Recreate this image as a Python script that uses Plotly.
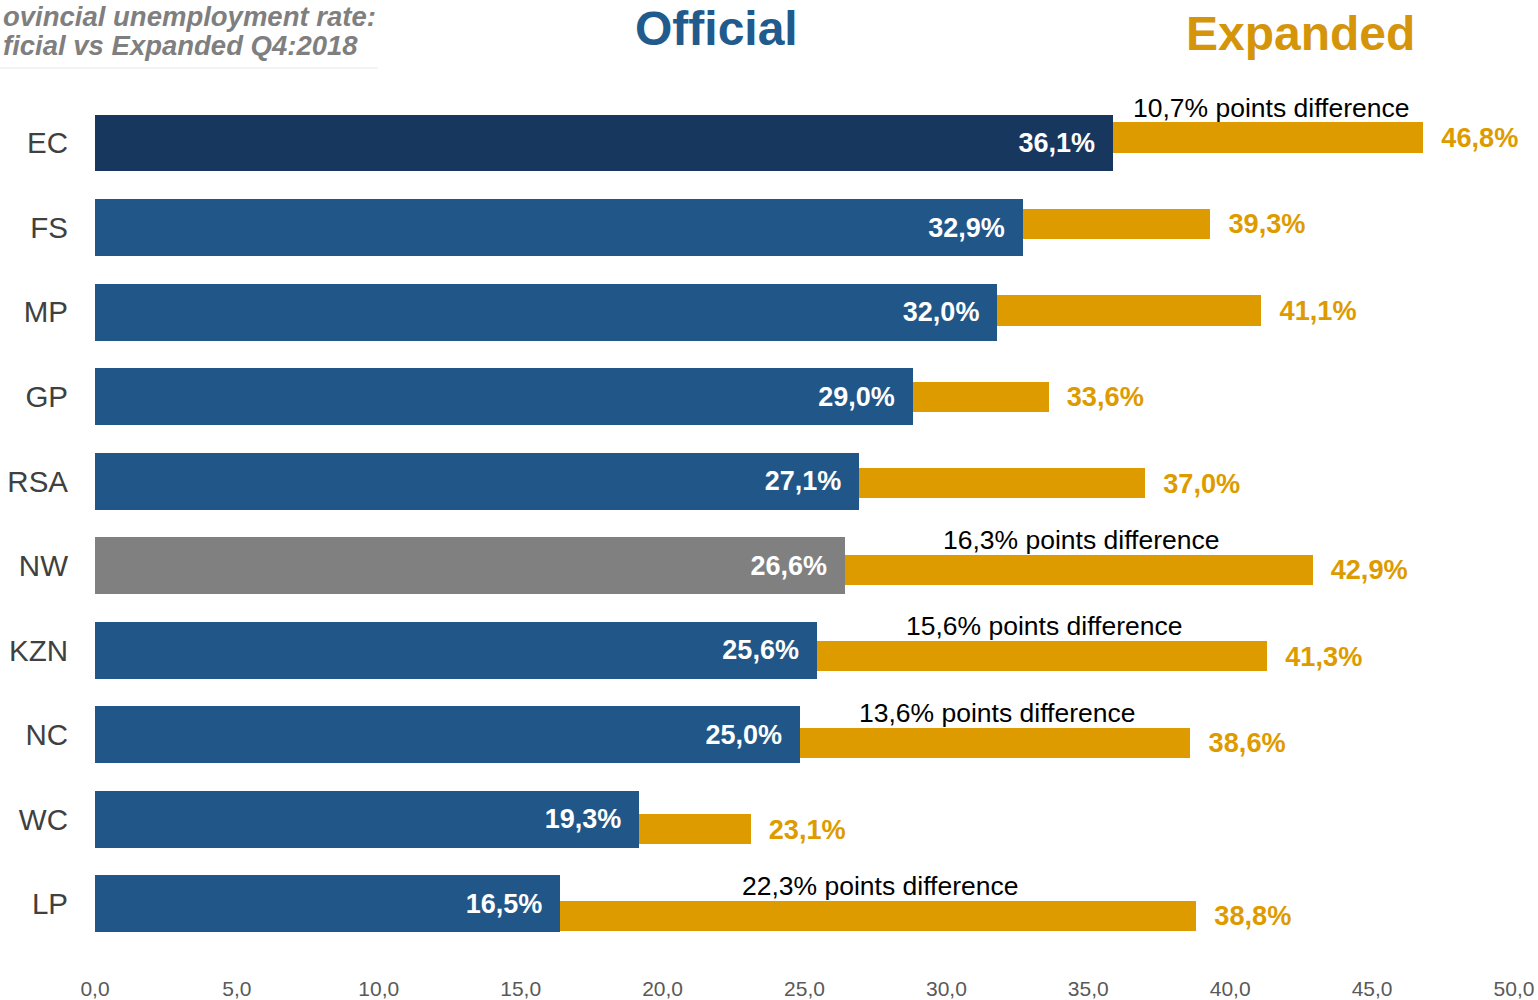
import plotly.graph_objects as go

provinces = ["EC", "FS", "MP", "GP", "RSA", "NW", "KZN", "NC", "WC", "LP"]
official = [36.1, 32.9, 32.0, 29.0, 27.1, 26.6, 25.6, 25.0, 19.3, 16.5]
expanded = [46.8, 39.3, 41.1, 33.6, 37.0, 42.9, 41.3, 38.6, 23.1, 38.8]
official_labels = ["36,1%", "32,9%", "32,0%", "29,0%", "27,1%", "26,6%", "25,6%", "25,0%", "19,3%", "16,5%"]
expanded_labels = ["46,8%", "39,3%", "41,1%", "33,6%", "37,0%", "42,9%", "41,3%", "38,6%", "23,1%", "38,8%"]
diff_provinces = ["EC", "NW", "KZN", "NC", "LP"]
diff_labels = ["10,7% points difference", "16,3% points difference", "15,6% points difference",
               "13,6% points difference", "22,3% points difference"]
x_ticks = [0, 5, 10, 15, 20, 25, 30, 35, 40, 45, 50]
x_ticklabels = ["0,0", "5,0", "10,0", "15,0", "20,0", "25,0", "30,0", "35,0", "40,0", "45,0", "50,0"]
title_lines = ["ovincial unemployment rate:", "ficial vs Expanded Q4:2018"]

BLUE = "#215788"
DARK = "#17375E"
GREY = "#808080"
ORANGE = "#DD9B00"

L, R, T, B = 95, 24, 100, 40
PW = 1538 - L - R  # plot width in px
PH = 1000 - T - B

idx = list(range(len(provinces)))
off_colors = [DARK if p == "EC" else GREY if p == "NW" else BLUE for p in provinces]
NB = "\u00a0"

fig = go.Figure()
# Expanded (thin orange) bars on primary axes
fig.add_trace(go.Bar(
    y=idx, x=expanded, orientation="h", width=0.347,
    marker=dict(color=ORANGE, line=dict(width=0)),
    text=[NB + NB + t for t in expanded_labels], textposition="outside",
    textfont=dict(family="Liberation Sans, Arial", size=29, color=ORANGE, weight="bold"),
    cliponaxis=False, xaxis="x", yaxis="y", showlegend=False, hoverinfo="skip",
))
# Official bars on overlaying axes (drawn on top)
fig.add_trace(go.Bar(
    y=idx, x=official, orientation="h", width=0.674,
    marker=dict(color=off_colors, line=dict(width=0)),
    text=[t + NB + NB for t in official_labels], textposition="inside", insidetextanchor="end",
    textfont=dict(family="Liberation Sans, Arial", size=27, color="white", weight="bold"),
    constraintext="none",
    xaxis="x2", yaxis="y2", showlegend=False, hoverinfo="skip",
))

annotations = []
for p, lab in zip(diff_provinces, diff_labels):
    i = provinces.index(p)
    annotations.append(dict(
        x=(official[i] + expanded[i]) / 2, y=i, xref="x", yref="y",
        text=lab, showarrow=False, yanchor="bottom", xanchor="center", yshift=13,
        font=dict(family="Liberation Sans, Arial", size=26.5, color="black"),
    ))

# title lines (positions in px from top of figure)
for line, ycen in zip(title_lines, [16, 45]):
    annotations.append(dict(
        x=-L / PW, y=1, xref="paper", yref="paper", xanchor="left", yanchor="middle",
        xshift=1, yshift=T - ycen, align="left", showarrow=False,
        text="<b><i>" + line + "</i></b>",
        font=dict(family="Liberation Sans, Arial", size=27.5, color="#7F7F7F")))

annotations += [
    dict(x=(716 - L) / PW, y=1, xref="paper", yref="paper", yanchor="middle", xanchor="center", showarrow=False,
         yshift=T - 28, text="<b>Official</b>", font=dict(family="Liberation Sans, Arial", size=48, color="#215A8C")),
    dict(x=(1300 - L) / PW, y=1, xref="paper", yref="paper", yanchor="middle", xanchor="center", showarrow=False,
         yshift=T - 33, text="<b>Expanded</b>", font=dict(family="Liberation Sans, Arial", size=48, color="#D4950A")),
]

fig.update_layout(
    width=1538, height=1000,
    margin=dict(l=L, r=R, t=T, b=B, autoexpand=False),
    paper_bgcolor="white", plot_bgcolor="white",
    bargap=0,
    barmode="overlay",
    hovermode=False,
    xaxis=dict(range=[0, 50], tickvals=x_ticks, ticktext=x_ticklabels, showgrid=False, zeroline=False,
               showline=False, ticks="", ticklabelstandoff=14, automargin=False,
               tickfont=dict(family="Liberation Sans, Arial", size=21, color="#595959")),
    xaxis2=dict(range=[0, PW / 28.2], overlaying="x", visible=False, showgrid=False, zeroline=False,
                automargin=False),
    yaxis=dict(range=[9.509, -0.4335], visible=False, showgrid=False, zeroline=False, automargin=False),
    yaxis2=dict(range=[9.663, -0.5086], overlaying="y", side="left", tickvals=idx, ticktext=provinces,
                showgrid=False, zeroline=False, showline=False, ticks="", ticklabelstandoff=26,
                automargin=False,
                tickfont=dict(family="Liberation Sans, Arial", size=29.5, color="#404040")),
    annotations=annotations,
    shapes=[dict(type="line", xref="paper", yref="paper", x0=-L / PW, x1=(378 - L) / PW,
                 y0=1 + 32 / PH, y1=1 + 32 / PH, line=dict(color="#E8E8E8", width=1))],
)

fig.write_html("out.html", config={"displayModeBar": False, "staticPlot": True},
               post_script="document.body.style.margin='0';document.body.style.overflow='hidden';")
